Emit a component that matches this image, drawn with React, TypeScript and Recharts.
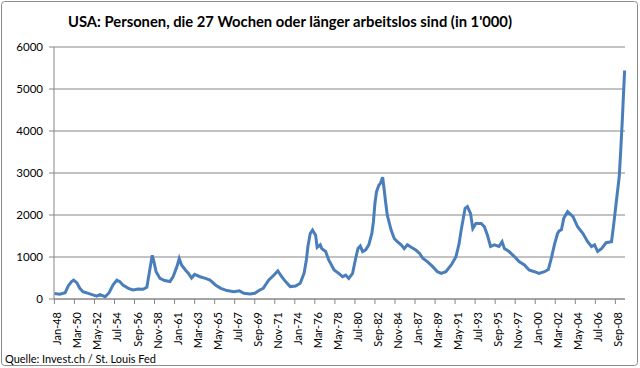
import React from "react";
import { LineChart, Line, XAxis, YAxis, CartesianGrid } from "recharts";

// months since Jan-1948
const monthIndex = [
  0, 7, 14, 18, 22, 25, 29, 33, 37, 44, 48, 55, 59, 66, 71, 76, 81, 85, 89, 96,
  102, 109, 115, 120, 123, 127, 129, 132, 137, 143, 150, 154, 159, 162, 165, 170, 174, 178, 182, 189,
  196, 202, 209, 216, 224, 233, 240, 246, 254, 260, 266, 271, 278, 285, 290, 295, 300, 306, 313, 319,
  324, 327, 329, 332, 335, 339, 341, 345, 347, 352, 356, 363, 369, 374, 378, 382, 387, 391, 394, 397,
  400, 404, 408, 412, 414, 416, 418, 421, 423, 426, 428, 430, 432, 437, 441, 445, 450, 454, 458, 463,
  469, 474, 478, 484, 491, 497, 502, 508, 515, 521, 525, 528, 533, 536, 540, 543, 547, 554, 558, 562,
  566, 571, 577, 581, 584, 590, 597, 603, 610, 616, 623, 629, 636, 641, 645, 649, 653, 655, 658, 661,
  666, 673, 679, 686, 692, 697, 701, 705, 710, 716, 723, 726, 729, 733, 735, 737, 739, 740,
];

// persons unemployed 27 weeks or longer, thousands
const values = [
  130, 115, 150, 310, 410, 450, 390, 255, 175, 135, 110, 70, 105, 55, 150, 330, 450, 410, 330, 255,
  215, 235, 230, 280, 610, 1040, 900, 650, 490, 440, 415, 530, 770, 965, 810, 690, 610, 500, 585, 530,
  490, 450, 335, 255, 200, 175, 195, 135, 120, 135, 210, 255, 450, 570, 670, 530, 415, 295, 310, 375,
  610, 930, 1250, 1560, 1640, 1520, 1230, 1290, 1200, 1130, 930, 690, 610, 530, 570, 490, 610, 970, 1200, 1260,
  1130, 1170, 1290, 1560, 1840, 2280, 2550, 2710, 2750, 2900, 2600, 2280, 2000, 1640, 1440, 1365, 1290, 1200, 1290, 1230,
  1165, 1085, 970, 890, 770, 650, 610, 650, 810, 1000, 1300, 1650, 2160, 2200, 2040, 1680, 1800, 1800, 1720, 1520,
  1250, 1290, 1250, 1365, 1200, 1130, 1010, 890, 810, 690, 650, 610, 650, 700, 980, 1300, 1560, 1620, 1650, 1920,
  2080, 1960, 1720, 1560, 1365, 1250, 1290, 1130, 1200, 1340, 1365, 1800, 2280, 2910, 3550, 4260, 5050, 5440,
];

const tickLabels = [
  "Jan-48", "Mar-50", "May-52", "Jul-54", "Sep-56", "Nov-58", "Jan-61", "Mar-63", "May-65", "Jul-67",
  "Sep-69", "Nov-71", "Jan-74", "Mar-76", "May-78", "Jul-80", "Sep-82", "Nov-84", "Jan-87", "Mar-89",
  "May-91", "Jul-93", "Sep-95", "Nov-97", "Jan-00", "Mar-02", "May-04", "Jul-06", "Sep-08",
];
const tickStep = 26;
const yTicks = [0, 1000, 2000, 3000, 4000, 5000, 6000];

const title = "USA: Personen, die 27 Wochen oder länger arbeitslos sind (in 1'000)";
const source = "Quelle: Invest.ch / St. Louis Fed";

const data = monthIndex.map((m, i) => ({ m, v: values[i] }));
const xTicks = tickLabels.map((_, i) => i * tickStep);

const FONT = "Lato, 'Open Sans', sans-serif";
const GRID = "#868686";

const XTick = (props: any) => {
  const { x, y, payload } = props;
  const idx = Math.round(payload.value / tickStep);
  return (
    <text
      x={x}
      y={y}
      transform={`rotate(-90 ${x} ${y})`}
      textAnchor="end"
      dy={7}
      fontSize={11}
      fontFamily={FONT}
      fill="#000"
    >
      {tickLabels[idx]}
    </text>
  );
};

export default function App() {
  return (
    <div style={{ position: "absolute", left: 0, top: 0, width: 640, height: 368, background: "#fff" }}>
      <LineChart
        width={640}
        height={368}
        data={data}
        margin={{ top: 47, right: 15, left: 0, bottom: 0 }}
      >
        <CartesianGrid horizontal vertical={false} stroke={GRID} strokeWidth={1} />
        <XAxis
          type="number"
          dataKey="m"
          domain={[-0.5, 740.5]}
          ticks={xTicks}
          interval={0}
          height={69}
          tickSize={5}
          tickMargin={8}
          axisLine={{ stroke: GRID }}
          tickLine={{ stroke: GRID }}
          tick={<XTick />}
        />
        <YAxis
          type="number"
          domain={[0, 6000]}
          ticks={yTicks}
          interval={0}
          width={54}
          tickSize={5}
          tickMargin={6}
          axisLine={{ stroke: GRID }}
          tickLine={{ stroke: GRID }}
          tick={{ fontSize: 11.5, fontFamily: FONT, fill: "#000" }}
        />
        <Line
          type="linear"
          dataKey="v"
          stroke="#4a7ebb"
          strokeWidth={3}
          dot={false}
          isAnimationActive={false}
        />
      </LineChart>
      <svg width={640} height={368} style={{ position: "absolute", left: 0, top: 0, pointerEvents: "none" }}>
        <rect x={1.5} y={1.5} width={636} height={364} rx={3} fill="none" stroke="#8c8c8c" strokeWidth={1} />
        <text x={68} y={27} fontSize={15} fontWeight="bold" fontFamily={FONT} fill="#000" textLength={444} lengthAdjust="spacingAndGlyphs">
          {title}
        </text>
        <text x={5} y={363} fontSize={11} fontFamily={FONT} fill="#000" textLength={151} lengthAdjust="spacingAndGlyphs">
          {source}
        </text>
      </svg>
    </div>
  );
}
